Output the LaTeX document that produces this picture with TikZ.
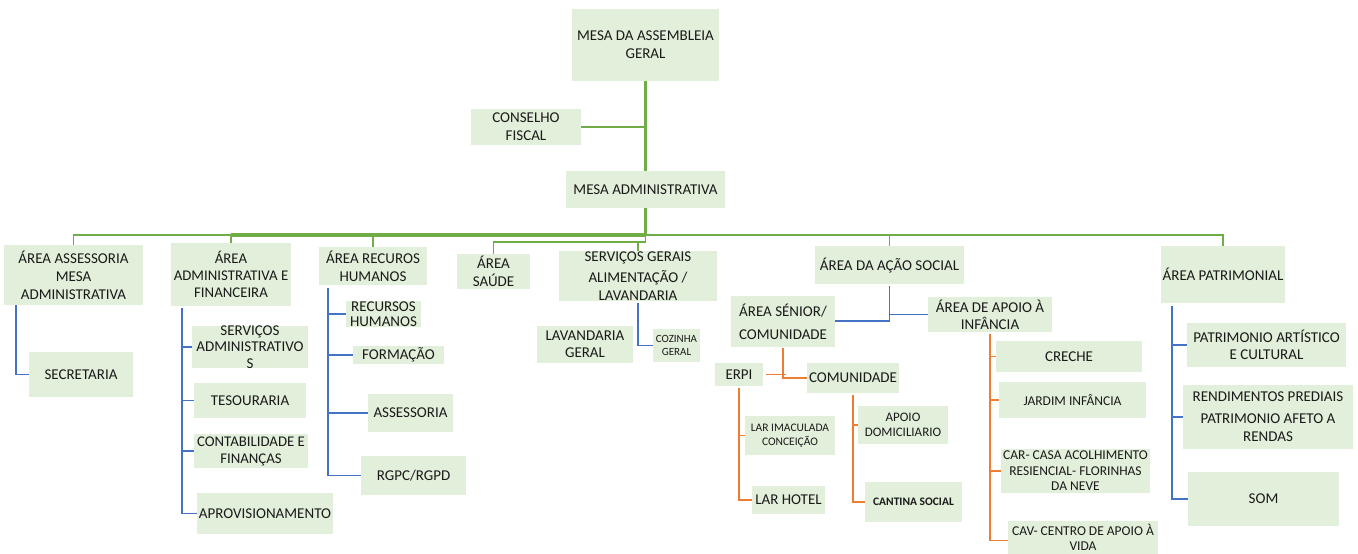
\documentclass[tikz,border=0pt]{standalone}
\usepackage{fontspec}
\setmainfont{Carlito}
\definecolor{boxfill}{HTML}{E2EFDA}
\definecolor{lgreen}{HTML}{70AD47}
\definecolor{lblue}{HTML}{4472C4}
\definecolor{lorange}{HTML}{ED7D31}
\definecolor{txt}{HTML}{1A1A1A}
\tikzset{
  box/.style={rectangle, fill=boxfill, draw=none, inner sep=0pt},
  t/.style={text=txt, align=center, inner sep=0pt, font=\fontsize{15}{18}\selectfont},
  small/.style={font=\fontsize{11.5}{14}\selectfont},
  gtrunk/.style={draw=lgreen, line width=2.6pt},
  gthick/.style={draw=lgreen, line width=4pt},
  gthin/.style={draw=lgreen, line width=1.8pt},
  bline/.style={draw=lblue, line width=1.8pt},
  oline/.style={draw=lorange, line width=1.8pt},
}
\newcommand\orgbox[6]{%
  \node[box, minimum width=#3, minimum height=#4] (#1) at (#2) {};
  \node[t, #5] (#1t) at (#1.center) {#6};}
\begin{document}
\begin{tikzpicture}[x=1pt,y=-1pt]
\useasboundingbox (0,0) rectangle (1358,554);
\clip (0,0) rectangle (1358,554);
% top
\orgbox{mag}{645.5,45}{147}{72}{}{MESA DA ASSEMBLEIA\\GERAL}
\orgbox{cf}{526,127}{110}{36}{}{CONSELHO\\FISCAL}
\orgbox{madm}{645.5,189.5}{159}{37}{}{MESA ADMINISTRATIVA}
% level areas
\orgbox{aam}{73.5,275}{139}{60}{}{ÁREA ASSESSORIA\\MESA\\ADMINISTRATIVA}
\orgbox{aaf}{231,274.5}{120}{63}{font=\fontsize{14.8}{17}\selectfont}{ÁREA\\ADMINISTRATIVA E\\FINANCEIRA}
\orgbox{arh}{373,266}{108}{38}{}{ÁREA RECUROS\\HUMANOS}
\orgbox{asa}{493.5,271.5}{73}{35}{}{ÁREA\\SAÚDE}
\orgbox{sg}{638,276}{158}{50}{}{SERVIÇOS GERAIS\\[3pt]ALIMENTAÇÃO /\\LAVANDARIA}
\orgbox{aas}{889.5,265}{149}{38}{}{ÁREA DA AÇÃO SOCIAL}
\orgbox{apat}{1223,274.5}{124}{57}{}{ÁREA PATRIMONIAL}
% assessoria
\orgbox{sec}{81,374.5}{104}{45}{}{SECRETARIA}
% administrativa
\orgbox{sadm}{250,347}{116}{42}{font=\fontsize{15}{16.5}\selectfont}{SERVIÇOS\\ADMINISTRATIVO\\S}
\orgbox{tes}{250,400.5}{112}{35}{}{TESOURARIA}
\orgbox{cont}{251,451}{114}{34}{font=\fontsize{14.8}{17}\selectfont}{CONTABILIDADE E\\FINANÇAS}
\orgbox{apr}{265,513.5}{136}{41}{}{APROVISIONAMENTO}
% recursos humanos
\orgbox{rh}{383.5,314}{75}{26}{font=\fontsize{15}{15.5}\selectfont}{RECURSOS\\HUMANOS}
\orgbox{form}{398.5,355}{91}{18}{}{FORMAÇÃO}
\orgbox{ass}{410.5,413}{85}{38}{}{ASSESSORIA}
\orgbox{rgpc}{413.5,475.5}{105}{39}{}{RGPC/RGPD}
% servicos gerais
\orgbox{lg}{585,344.5}{96}{37}{font=\fontsize{15}{17}\selectfont}{LAVANDARIA\\GERAL}
\orgbox{cg}{676.5,345.5}{47}{33}{font=\fontsize{11}{13.5}\selectfont}{COZINHA\\GERAL}
% acao social
\orgbox{asen}{783,321.5}{104}{51}{}{ÁREA SÉNIOR/\\[5pt]COMUNIDADE}
\orgbox{aai}{990,314.5}{124}{35}{font=\fontsize{15}{17}\selectfont}{ÁREA DE APOIO À\\INFÂNCIA}
\orgbox{erpi}{739,374.5}{48}{23}{}{ERPI}
\orgbox{com}{853,378}{92}{30}{}{COMUNIDADE}
\orgbox{lic}{790,435.5}{90}{39}{small}{LAR IMACULADA\\CONCEIÇÃO}
\orgbox{lh}{788.5,500}{73}{28}{}{LAR HOTEL}
\orgbox{ad}{903,425}{90}{38}{font=\fontsize{13}{15}\selectfont}{APOIO\\DOMICILIARIO}
\orgbox{cs}{913.5,502}{97}{40}{font=\bfseries\fontsize{11.5}{13}\selectfont}{CANTINA SOCIAL}
\orgbox{cre}{1069,356.5}{146}{31}{}{CRECHE}
\orgbox{ji}{1072.5,400}{147}{36}{font=\fontsize{13.5}{15}\selectfont}{JARDIM INFÂNCIA}
\orgbox{car}{1075.5,471}{149}{44}{font=\fontsize{13.5}{15.5}\selectfont}{CAR- CASA ACOLHIMENTO\\RESIENCIAL- FLORINHAS\\DA NEVE}
\orgbox{cav}{1083,540.5}{150}{39}{font=\fontsize{13.5}{14.5}\selectfont,yshift=3pt}{CAV- CENTRO DE APOIO À\\VIDA}
% patrimonial
\orgbox{pac}{1266.5,345}{159}{44}{font=\fontsize{15}{17}\selectfont}{PATRIMONIO ARTÍSTICO\\E CULTURAL}
\orgbox{rp}{1268,417}{170}{64}{}{RENDIMENTOS PREDIAIS\\[4pt]PATRIMONIO AFETO A\\RENDAS}
\orgbox{som}{1263.5,499}{151}{54}{}{SOM}

% green trunk and bus
\coordinate (bus) at (645.5,235);
\coordinate (bus2) at (645.5,242);
\draw[gtrunk] (mag.south) -- (madm.north);
\draw[gtrunk] (cf.east) -- (cf.east -| mag.south);
\draw[gtrunk] (madm.south) -- (bus);
\draw[gthick] (bus) -- (bus -| aaf.north);
\draw[gthin] (aaf.north) -- (bus -| aaf.north);
\draw[gthin] (aam.north) |- (bus -| aaf.north);
\draw[gthin] (arh.north) -- (bus -| arh.north);
\draw[gthin] (bus) -| (apat.north);
\draw[gthin] (bus -| aas.north) -- (aas.north);
\draw[gthin] (bus) -- (bus2) -| (asa.north);
\draw[gthin] (bus2) -| (sg.north);

% blue: assessoria
\coordinate (aamv) at ([xshift=12pt]aam.south west);
\draw[bline] (aamv) |- (sec.west);
% blue: administrativa
\coordinate (aafv) at ([xshift=11pt,yshift=-2pt]aaf.south west);
\draw[bline] (aafv) |- (apr.west);
\foreach \n in {sadm,tes,cont} \draw[bline] (aafv |- \n.west) -- (\n.west);
% blue: recursos humanos
\coordinate (arhv) at ([xshift=9pt,yshift=-3pt]arh.south west);
\draw[bline] (arhv) |- (rgpc.west);
\foreach \n in {rh,form,ass} \draw[bline] (arhv |- \n.west) -- (\n.west);
% blue: servicos gerais
\draw[bline] ([yshift=-2pt]sg.south) |- (cg.west);
% blue: acao social
\coordinate (aasj) at ([yshift=-37pt]aas.south);
\draw[bline] ([yshift=-2pt]aas.south) -- (aasj) -- (aasj -| asen.east);
\draw[bline] (aas.south |- aai.west) -- (aai.west);
% blue: patrimonial
\coordinate (apatv) at ([xshift=11pt,yshift=-3pt]apat.south west);
\draw[bline] (apatv) |- (som.west);
\foreach \n in {pac,rp} \draw[bline] (apatv |- \n.west) -- (\n.west);

% orange
\draw[oline] ([yshift=-1pt]asen.south) |- (com.west);
\draw[oline] ([xshift=3pt]erpi.east) -- ([xshift=3pt]erpi.east -| asen.south);
\draw[oline] ([yshift=-2pt]erpi.south) |- (lh.west);
\draw[oline] (erpi.south |- lic.west) -- (lic.west);
\draw[oline] ([yshift=-2pt]com.south) |- (cs.west);
\draw[oline] (com.south |- ad.west) -- (ad.west);
\draw[oline] ([yshift=-2pt]aai.south) |- (cav.west);
\foreach \n in {cre,ji,car} \draw[oline] (aai.south |- \n.west) -- (\n.west);
\end{tikzpicture}
\end{document}
